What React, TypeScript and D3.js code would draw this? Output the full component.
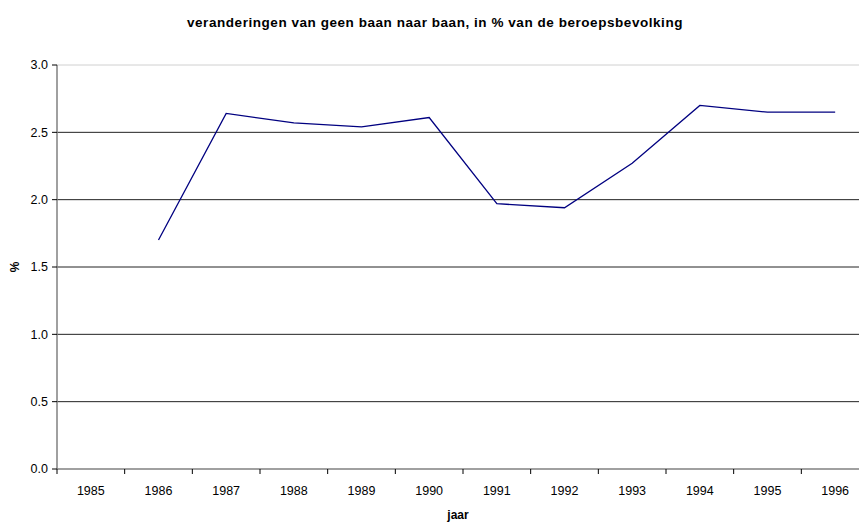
import React from 'react';
import * as d3 from 'd3';

const years = ['1985', '1986', '1987', '1988', '1989', '1990', '1991', '1992', '1993', '1994', '1995', '1996'];
// 1985 has no value
const values: (number | null)[] = [null, 1.70, 2.64, 2.57, 2.54, 2.61, 1.97, 1.94, 2.27, 2.70, 2.65, 2.65];
const yTicks = [0, 0.5, 1.0, 1.5, 2.0, 2.5, 3.0];

const width = 859;
const height = 523;
const margin = { left: 57, right: -10, top: 65, bottom: 54 };
const font = 'Arial, "Liberation Sans", sans-serif';

const App = () => {
    const plotW = width - margin.left - margin.right;
    const plotH = height - margin.top - margin.bottom;

    const xScale = d3.scaleBand().domain(years).range([0, plotW]);
    const yScale = d3.scaleLinear().domain([0, 3]).range([plotH, 0]);

    const line = d3.line<number | null>()
        .defined(d => d !== null)
        .x((d, i) => xScale(years[i])! + xScale.bandwidth() / 2)
        .y(d => yScale(d as number));

    return (
        <svg width={width} height={height} style={{ position: 'absolute', left: 0, top: 0, background: '#fff' }}>
            <text x={435} y={27} textAnchor="middle" fontFamily={font} fontWeight="bold" fontSize={13.5}
                letterSpacing={0.55}>
                veranderingen van geen baan naar baan, in % van de beroepsbevolking
            </text>
            <g transform={`translate(${margin.left},${margin.top})`}>
                {/* gridlines */}
                {yTicks.filter(t => t > 0).map(t => (
                    <line key={t} x1={0} x2={plotW} y1={yScale(t)} y2={yScale(t)}
                        stroke={t === 3 ? '#d0d0d0' : '#222'} strokeWidth={1} />
                ))}
                {/* y axis */}
                <line x1={0} x2={0} y1={0} y2={plotH} stroke="#808080" strokeWidth={1.5} />
                {yTicks.map(t => (
                    <g key={t} transform={`translate(0,${yScale(t)})`}>
                        <line x1={-5} x2={0} stroke="#000" />
                        <text x={-9} dy="0.35em" textAnchor="end" fontFamily={font} fontSize={12.5}>
                            {t.toFixed(1)}
                        </text>
                    </g>
                ))}
                {/* x axis */}
                <line x1={0} x2={plotW} y1={plotH} y2={plotH} stroke="#808080" strokeWidth={1.5} />
                {years.map(y => (
                    <g key={y}>
                        <line x1={xScale(y)} x2={xScale(y)} y1={plotH} y2={plotH + 5} stroke="#000" />
                        <text x={xScale(y)! + xScale.bandwidth() / 2} y={plotH + 26} textAnchor="middle"
                            fontFamily={font} fontSize={12.5}>{y}</text>
                    </g>
                ))}
                <path d={line(values) || ''} fill="none" stroke="#000080" strokeWidth={1.3} />
                <text x={plotW / 2 - 5} y={plotH + 50} textAnchor="middle" fontFamily={font}
                    fontWeight="bold" fontSize={12}>jaar</text>
            </g>
            <text transform={`translate(19,${margin.top + yScale(1.5)}) rotate(-90)`} textAnchor="middle"
                fontFamily={font} fontWeight="bold" fontSize={12}>%</text>
        </svg>
    );
};

export default App;
